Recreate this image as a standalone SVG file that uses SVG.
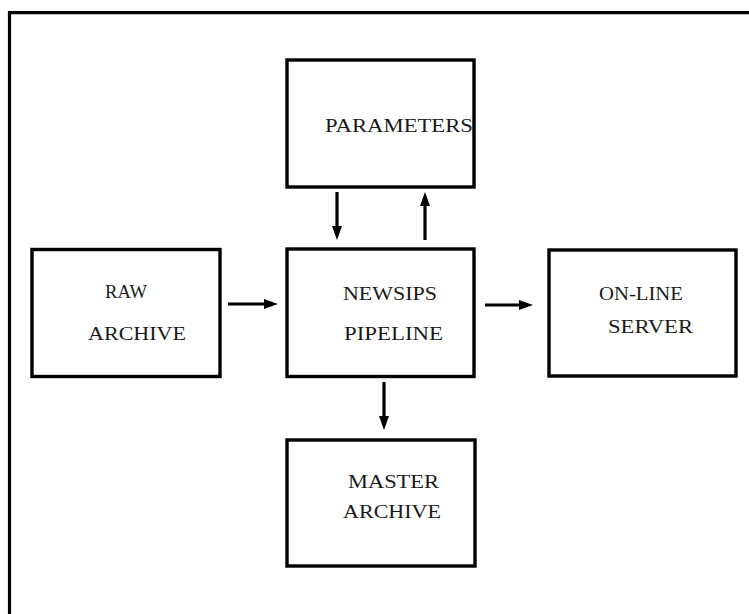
<svg xmlns="http://www.w3.org/2000/svg" width="749" height="614" viewBox="0 0 749 614">
<style>
.box{fill:#fff;stroke:#000;stroke-width:3.4}
.lbl{font-family:"Liberation Serif","DejaVu Serif",serif;font-size:18px;fill:#1a1a1a}
.con{stroke:#000;stroke-width:3.2;fill:none}
</style>
<defs>
<marker id="ah" markerUnits="userSpaceOnUse" markerWidth="14" markerHeight="10" refX="4" refY="5" orient="auto">
<path d="M0,0 L14,5 L0,10 z" fill="#000"/>
</marker>
</defs>
<rect width="749" height="614" fill="#fff"/>
<path d="M9.5,614 V12.7 H749" class="con"/>
<g id="parameters">
<rect class="box" x="287" y="60" width="187" height="127"/>
<text class="lbl" x="325" y="132" textLength="148" lengthAdjust="spacingAndGlyphs">PARAMETERS</text>
</g>
<g id="raw-archive">
<rect class="box" x="32" y="249.5" width="188" height="127"/>
<text class="lbl" x="105" y="298" textLength="42" lengthAdjust="spacingAndGlyphs">RAW</text>
<text class="lbl" x="88" y="340" textLength="98" lengthAdjust="spacingAndGlyphs">ARCHIVE</text>
</g>
<g id="newsips-pipeline">
<rect class="box" x="287" y="249" width="187" height="127.5"/>
<text class="lbl" x="343" y="300" textLength="94" lengthAdjust="spacingAndGlyphs">NEWSIPS</text>
<text class="lbl" x="344" y="340" textLength="99" lengthAdjust="spacingAndGlyphs">PIPELINE</text>
</g>
<g id="online-server">
<rect class="box" x="549" y="250" width="187" height="126"/>
<text class="lbl" x="599" y="300" textLength="84" lengthAdjust="spacingAndGlyphs">ON-LINE</text>
<text class="lbl" x="608" y="333" textLength="85" lengthAdjust="spacingAndGlyphs">SERVER</text>
</g>
<g id="master-archive">
<rect class="box" x="287" y="440" width="188" height="126"/>
<text class="lbl" x="348" y="488" textLength="91" lengthAdjust="spacingAndGlyphs">MASTER</text>
<text class="lbl" x="343" y="518" textLength="98" lengthAdjust="spacingAndGlyphs">ARCHIVE</text>
</g>
<g id="connectors">
<line class="con" x1="228" y1="304" x2="268" y2="304" marker-end="url(#ah)"/>
<line class="con" x1="485" y1="305" x2="523" y2="305" marker-end="url(#ah)"/>
<line class="con" x1="337" y1="192" x2="337" y2="230" marker-end="url(#ah)"/>
<line class="con" x1="425" y1="240" x2="425" y2="202" marker-end="url(#ah)"/>
<line class="con" x1="384" y1="382" x2="384" y2="420" marker-end="url(#ah)"/>
</g>
</svg>
